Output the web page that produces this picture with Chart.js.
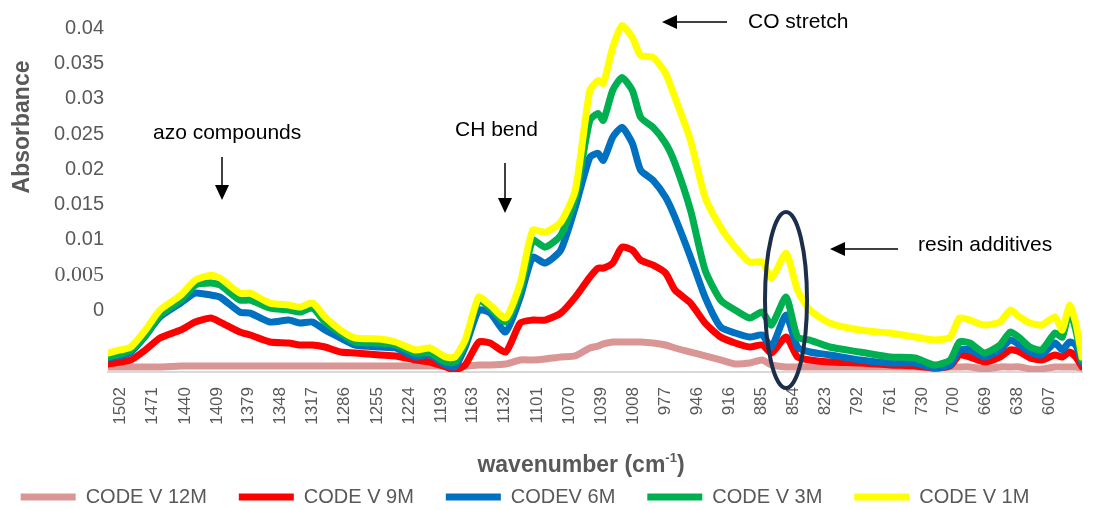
<!DOCTYPE html>
<html>
<head>
<meta charset="utf-8">
<script src="https://cdn.jsdelivr.net/npm/chart.js@4.4.1/dist/chart.umd.min.js"></script>
<style>
  html, body { margin: 0; padding: 0; background: #fff; }
  #wrap { width: 1093px; height: 510px; }
</style>
</head>
<body>
<div id="wrap"><canvas id="ftir-chart" width="1093" height="510"></canvas></div>
<script>
const wavenumbers = [1514, 1502, 1492, 1478, 1464, 1444, 1430, 1415, 1406, 1387,
  1377, 1358, 1340, 1329, 1317, 1305, 1290, 1276, 1252, 1237,
  1218, 1204, 1189, 1180, 1170, 1157, 1146, 1131, 1117, 1105,
  1093, 1078, 1064, 1050, 1042, 1037, 1028, 1019, 1009, 1001,
  989, 977, 968, 953, 939, 924, 910, 896, 884, 875,
  861, 850, 838, 819, 790, 761, 737, 718, 703, 694,
  684, 670, 655, 645, 636, 626, 615, 602, 595, 588,
  582, 576];

const code12M = [-0.00808, -0.00808, -0.00808, -0.00808, -0.00808, -0.00794, -0.00794, -0.00794, -0.00794, -0.00794,
  -0.00794, -0.00794, -0.00794, -0.00794, -0.00794, -0.00794, -0.00794, -0.00794, -0.00794, -0.00794,
  -0.00794, -0.00794, -0.00794, -0.00794, -0.00794, -0.00780, -0.00780, -0.00766, -0.00709, -0.00709,
  -0.00695, -0.00667, -0.00652, -0.00539, -0.00511, -0.00482, -0.00454, -0.00454, -0.00454, -0.00454,
  -0.00468, -0.00496, -0.00539, -0.00596, -0.00652, -0.00709, -0.00766, -0.00752, -0.00709, -0.00780,
  -0.00808, -0.00808, -0.00808, -0.00808, -0.00808, -0.00808, -0.00808, -0.00823, -0.00808, -0.00808,
  -0.00808, -0.00837, -0.00808, -0.00808, -0.00808, -0.00837, -0.00837, -0.00808, -0.00808, -0.00808,
  -0.00808, -0.00823];

const code9M = [-0.00766, -0.00738, -0.00709, -0.00567, -0.00397, -0.00284, -0.00170, -0.00113, -0.00170, -0.00312,
  -0.00355, -0.00454, -0.00468, -0.00496, -0.00496, -0.00525, -0.00596, -0.00610, -0.00638, -0.00652,
  -0.00709, -0.00738, -0.00808, -0.00851, -0.00780, -0.00454, -0.00468, -0.00596, -0.00184, -0.00142,
  -0.00142, -0.00043, 0.00184, 0.00468, 0.00596, 0.00596, 0.00667, 0.00894, 0.00851, 0.00709,
  0.00638, 0.00525, 0.00284, 0.00099, -0.00184, -0.00383, -0.00468, -0.00525, -0.00496, -0.00610,
  -0.00383, -0.00667, -0.00709, -0.00738, -0.00752, -0.00780, -0.00794, -0.00823, -0.00794, -0.00638,
  -0.00667, -0.00738, -0.00667, -0.00567, -0.00596, -0.00681, -0.00709, -0.00638, -0.00667, -0.00596,
  -0.00667, -0.00808];

const code6M = [-0.00681, -0.00652, -0.00596, -0.00369, -0.00099, 0.00099, 0.00241, 0.00213, 0.00184, -0.00028,
  -0.00043, -0.00170, -0.00142, -0.00184, -0.00170, -0.00284, -0.00397, -0.00496, -0.00525, -0.00539,
  -0.00667, -0.00638, -0.00780, -0.00808, -0.00525, 0, -0.00043, -0.00312, 0.00184, 0.00752,
  0.00667, 0.00851, 0.01461, 0.02170, 0.02227, 0.02128, 0.02454, 0.02596, 0.02369, 0.01986,
  0.01844, 0.01603, 0.01319, 0.00752, 0.00184, -0.00241, -0.00326, -0.00383, -0.00355, -0.00525,
  -0.00071, -0.00525, -0.00596, -0.00638, -0.00709, -0.00752, -0.00752, -0.00823, -0.00780, -0.00567,
  -0.00567, -0.00667, -0.00567, -0.00426, -0.00496, -0.00596, -0.00638, -0.00468, -0.00567, -0.00454,
  -0.00496, -0.00752];

const code3M = [-0.00667, -0.00624, -0.00567, -0.00355, -0.00071, 0.00142, 0.00355, 0.00383, 0.00355, 0.00142,
  0.00142, 0.00028, 0, -0.00028, 0.00028, -0.00170, -0.00326, -0.00454, -0.00468, -0.00496,
  -0.00610, -0.00610, -0.00738, -0.00738, -0.00468, 0.00142, 0.00028, -0.00170, 0.00284, 0.00993,
  0.00894, 0.01064, 0.01603, 0.02695, 0.02794, 0.02695, 0.03120, 0.03305, 0.03120, 0.02738,
  0.02596, 0.02369, 0.02085, 0.01418, 0.00567, 0.00142, 0, -0.00113, -0.00028, -0.00213,
  0.00184, -0.00383, -0.00426, -0.00525, -0.00596, -0.00667, -0.00681, -0.00780, -0.00709, -0.00454,
  -0.00468, -0.00610, -0.00496, -0.00312, -0.00397, -0.00525, -0.00567, -0.00326, -0.00383, 0,
  -0.00284, -0.00709];

const code1M = [-0.00610, -0.00567, -0.00525, -0.00284, 0, 0.00213, 0.00426, 0.00496, 0.00454, 0.00241,
  0.00241, 0.00099, 0.00071, 0.00043, 0.00099, -0.00099, -0.00284, -0.00397, -0.00411, -0.00454,
  -0.00567, -0.00539, -0.00667, -0.00667, -0.00426, 0.00184, 0.00071, -0.00113, 0.00383, 0.01135,
  0.01106, 0.01248, 0.01702, 0.03120, 0.03262, 0.03220, 0.03730, 0.04043, 0.03872, 0.03617,
  0.03589, 0.03362, 0.03021, 0.02411, 0.01603, 0.01177, 0.00894, 0.00681, 0.00681, 0.00454,
  0.00808, 0.00284, 0, -0.00184, -0.00284, -0.00326, -0.00383, -0.00426, -0.00383, -0.00113,
  -0.00142, -0.00213, -0.00170, 0, -0.00099, -0.00184, -0.00213, -0.00099, -0.00284, 0.00071,
  -0.00184, -0.00667];

const seriesNames = ['CODE V 12M', 'CODE V 9M', 'CODEV 6M', 'CODE V 3M', 'CODE V 1M'];
const seriesValues = [code12M, code9M, code6M, code3M, code1M];
const seriesColors = ['#da9694', '#ff0000', '#0070c0', '#00b050', '#ffff00'];

const xTickLabels = [1502, 1471, 1440, 1409, 1379, 1348, 1317, 1286, 1255, 1224,
  1193, 1163, 1132, 1101, 1070, 1039, 1008, 977, 946, 916,
  885, 854, 823, 792, 761, 730, 700, 669, 638, 607];
const yTickLabels = [0, 0.005, 0.01, 0.015, 0.02, 0.025, 0.03, 0.035, 0.04];

const SANS = "'Liberation Sans', Arial, sans-serif";
const GREY = '#595959';

function arrow(c, x1, y1, x2, y2) {
  const ang = Math.atan2(y2 - y1, x2 - x1);
  const len = 15, half = 7;
  const bx = x2 - len * Math.cos(ang), by = y2 - len * Math.sin(ang);
  c.beginPath();
  c.moveTo(x1, y1);
  c.lineTo(bx, by);
  c.stroke();
  c.beginPath();
  c.moveTo(x2, y2);
  c.lineTo(bx + half * Math.sin(ang), by - half * Math.cos(ang));
  c.lineTo(bx - half * Math.sin(ang), by + half * Math.cos(ang));
  c.closePath();
  c.fill();
}

// notes, arrows, ellipse and axis titles
const notesPlugin = {
  id: 'notes',
  afterLayout(chart) {
    const lg = chart.legend;
    lg.left -= 16; lg.right -= 16;
    lg.top += 7; lg.bottom += 7;
  },
  afterDatasetsDraw(chart) {
    const c = chart.ctx;
    c.save();
    c.strokeStyle = '#1c2f4a';
    c.lineWidth = 4;
    c.beginPath();
    c.ellipse(786, 300, 21, 88, 0, 0, Math.PI * 2);
    c.stroke();

    c.fillStyle = '#000';
    c.strokeStyle = '#000';
    c.lineWidth = 1.5;
    c.font = '21px ' + SANS;
    c.textBaseline = 'middle';
    c.textAlign = 'left';
    c.fillText('azo compounds', 153, 133);
    c.fillText('CH bend', 455, 130);
    c.fillText('CO stretch', 748, 22);
    c.fillText('resin additives', 918, 245);
    arrow(c, 222, 157, 222, 200);
    arrow(c, 505, 163, 505, 213);
    arrow(c, 727, 22, 662, 22);
    arrow(c, 898, 249, 830, 249);
    c.restore();
  },
  afterDraw(chart) {
    const c = chart.ctx;
    c.save();
    c.fillStyle = GREY;
    c.textBaseline = 'middle';
    // y title
    c.font = 'bold 23px ' + SANS;
    c.translate(23, 127);
    c.rotate(-Math.PI / 2);
    c.textAlign = 'center';
    c.fillText('Absorbance', 0, 0);
    c.setTransform(1, 0, 0, 1, 0, 0);
    // x title with superscript
    const main = 'wavenumber (cm';
    c.font = 'bold 23px ' + SANS;
    const w1 = c.measureText(main).width;
    const w3 = c.measureText(')').width;
    c.font = 'bold 13px ' + SANS;
    const w2 = c.measureText('-1').width;
    let x = 581 - (w1 + w2 + w3) / 2;
    c.textAlign = 'left';
    c.font = 'bold 23px ' + SANS;
    c.fillText(main, x, 466);
    c.font = 'bold 13px ' + SANS;
    c.fillText('-1', x + w1, 458);
    c.font = 'bold 23px ' + SANS;
    c.fillText(')', x + w1 + w2, 466);
    c.restore();
  }
};

const datasets = seriesNames.map((name, i) => ({
  label: name,
  data: wavenumbers.map((wn, j) => ({ x: wn, y: seriesValues[i][j] })),
  borderColor: seriesColors[i],
  backgroundColor: seriesColors[i],
  borderWidth: 7,
  pointRadius: 0,
  tension: 0.2,
  borderJoinStyle: 'round',
  borderCapStyle: 'round',
  order: seriesNames.length - 1 - i
}));

const ctx = document.getElementById('ftir-chart').getContext('2d');
new Chart(ctx, {
  type: 'line',
  data: { datasets: datasets },
  options: {
    responsive: false,
    animation: false,
    devicePixelRatio: 1,
    layout: { padding: { top: 18, right: 11, left: 0, bottom: 0 } },
    plugins: {
      tooltip: { enabled: false },
      legend: {
        position: 'bottom',
        labels: {
          boxWidth: 55,
          boxHeight: 7,
          padding: 32,
          color: GREY,
          font: { size: 20, family: SANS },
          generateLabels: chart => chart.data.datasets.map((ds, i) => ({
            text: ds.label,
            fillStyle: ds.borderColor,
            strokeStyle: ds.borderColor,
            lineWidth: 0,
            hidden: false,
            datasetIndex: i,
            fontColor: GREY
          }))
        }
      }
    },
    scales: {
      x: {
        type: 'linear',
        reverse: true,
        min: 576,
        max: 1514,
        grid: { display: false, drawTicks: false },
        border: { display: true, color: '#d9d9d9', width: 2 },
        afterBuildTicks: scale => { scale.ticks = xTickLabels.map(v => ({ value: v })); },
        afterFit: scale => { scale.height = 76; },
        ticks: {
          autoSkip: false,
          minRotation: 90,
          maxRotation: 90,
          padding: 15,
          color: GREY,
          font: { size: 17, family: SANS },
          callback: v => String(v)
        }
      },
      y: {
        min: -0.0088,
        max: 0.0415,
        grid: { display: false, drawTicks: false },
        border: { display: false },
        afterBuildTicks: scale => { scale.ticks = yTickLabels.map(v => ({ value: v })); },
        afterFit: scale => { scale.width = 108; },
        ticks: {
          padding: 4,
          color: GREY,
          font: c => (c.tick && c.tick.value === 0.005)
            ? { size: 22, family: "'Liberation Serif', serif" }
            : { size: 20, family: SANS },
          callback: v => String(v)
        }
      }
    }
  },
  plugins: [notesPlugin]
});
</script>
</body>
</html>
